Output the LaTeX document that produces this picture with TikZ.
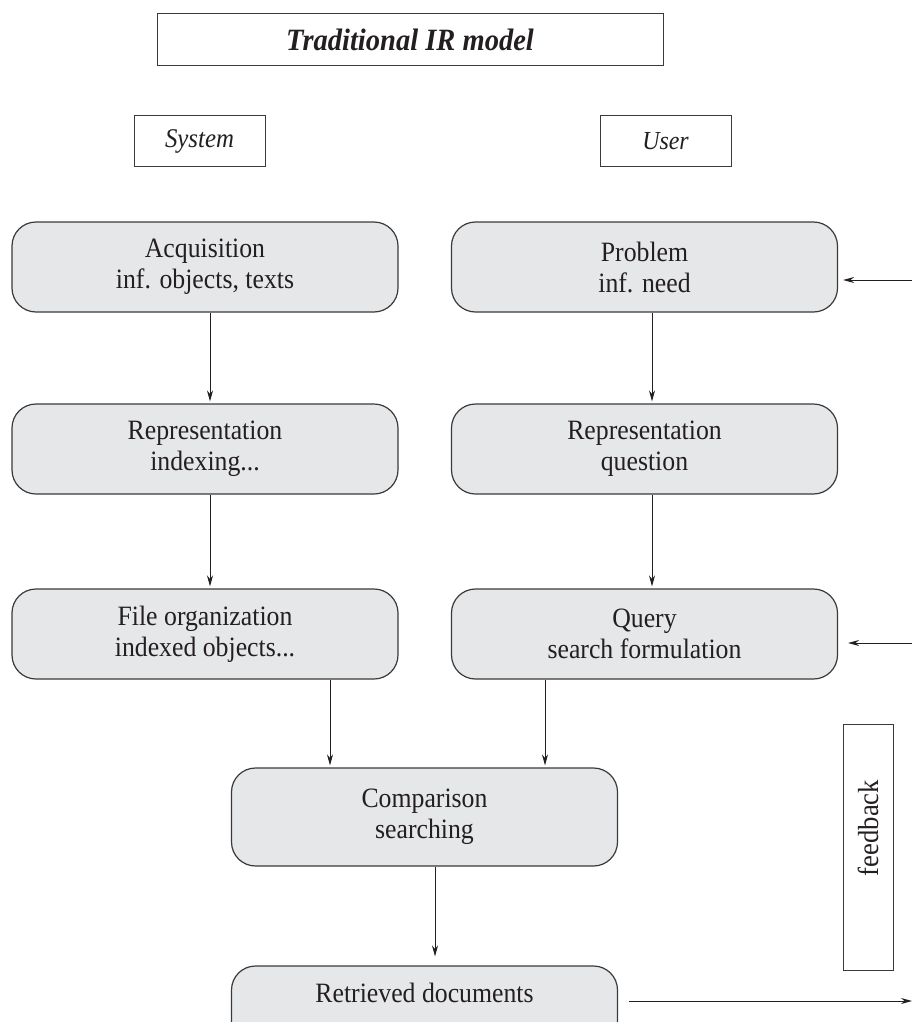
\documentclass[tikz,border=0pt]{standalone}
\usepackage{fontspec}
\setmainfont{Liberation Serif}[FakeStretch=0.92]
\usetikzlibrary{arrows.meta}

\definecolor{boxfill}{HTML}{E6E7E8}
\definecolor{edge}{HTML}{3A3A3A}
\definecolor{ink}{HTML}{231F20}

\tikzset{
  stagebox/.style={draw=edge, line width=1.2pt, fill=boxfill, rounded corners=24pt,
    minimum width=386pt, minimum height=90pt, align=center, text=ink,
    font=\fontsize{28}{31}\selectfont, inner sep=0pt},
  labelbox/.style={draw=edge, line width=1pt, fill=white, text=ink, inner sep=0pt},
  arr/.style={draw=ink, line width=0.9pt, -{Stealth[length=11pt,width=6pt]}}
}

\begin{document}
\begin{tikzpicture}[x=1pt,y=-1pt]
\useasboundingbox (0,0) rectangle (912,1022);
\begin{scope}
\clip (0,0) rectangle (912,1022);

% headings
\node[labelbox, minimum width=506pt, minimum height=52pt,
      font=\fontsize{31}{34}\selectfont\bfseries\itshape] (title) at (410,40) {Traditional IR model};
\node[labelbox, minimum width=131pt, minimum height=51pt,
      font=\fontsize{27}{30}\selectfont\itshape] (sys) at (199.5,141) {System};
\node[labelbox, minimum width=131pt, minimum height=51pt,
      font=\fontsize{26}{30}\selectfont\itshape] (usr) at (665.5,141) {User};

% system column
\node[stagebox] (acq)  at (205,267) {Acquisition\\inf. objects, texts};
\node[stagebox] (repS) at (205,449) {Representation\\indexing...};
\node[stagebox] (file) at (205,634) {File organization\\indexed objects...};

% user column
\node[stagebox] (prob)  at (644.5,267) {Problem\\inf. need};
\node[stagebox] (repU)  at (644.5,449) {Representation\\question};
\node[stagebox] (query) at (644.5,634) {Query\\search formulation};

% matching and result
\node[stagebox, minimum height=98pt] (comp) at (424.5,817) {Comparison\\searching};
\node[stagebox] (retr) at (424.5,1011) {};
\node[text=ink, font=\fontsize{28}{28}\selectfont, inner sep=0pt] (retrtext) at (424.5,993) {Retrieved documents};

% feedback label
\node[labelbox, minimum width=50pt, minimum height=246pt] (fb) at (868,847) {};
\node[rotate=90, text=ink, font=\fontsize{29}{30}\selectfont, inner sep=0pt] (fbtext) at (868,828) {feedback};

% vertical flow
\draw[arr, shorten >=2pt] ([xshift=5pt]acq.south)  -- ([xshift=5pt]repS.north);
\draw[arr, shorten >=2pt] ([xshift=5pt]repS.south) -- ([xshift=5pt]file.north);
\draw[arr, shorten >=2pt] ([xshift=7.5pt]prob.south) -- ([xshift=7.5pt]repU.north);
\draw[arr, shorten >=2pt] ([xshift=7.5pt]repU.south) -- ([xshift=7.5pt]query.north);

\coordinate (c1) at (330,0);
\coordinate (c2) at (545,0);
\coordinate (c3) at (435,0);
\draw[arr, shorten >=2pt] (file.south -| c1)  -- (comp.north -| c1);
\draw[arr, shorten >=2pt] (query.south -| c2) -- (comp.north -| c2);
\draw[arr, shorten >=9pt] (comp.south -| c3)  -- (retr.north -| c3);

% feedback loop ends
\coordinate (in1) at (912,280);
\coordinate (in2) at (912,643);
\coordinate (out) at (912,1001);
\draw[arr, shorten >=5pt]  (in1) -- (prob.east |- in1);
\draw[arr, shorten >=10pt] (in2) -- (query.east |- in2);
\draw[arr, shorten <=11pt] (retr.east |- out) -- (out);
\end{scope}
\end{tikzpicture}
\end{document}
